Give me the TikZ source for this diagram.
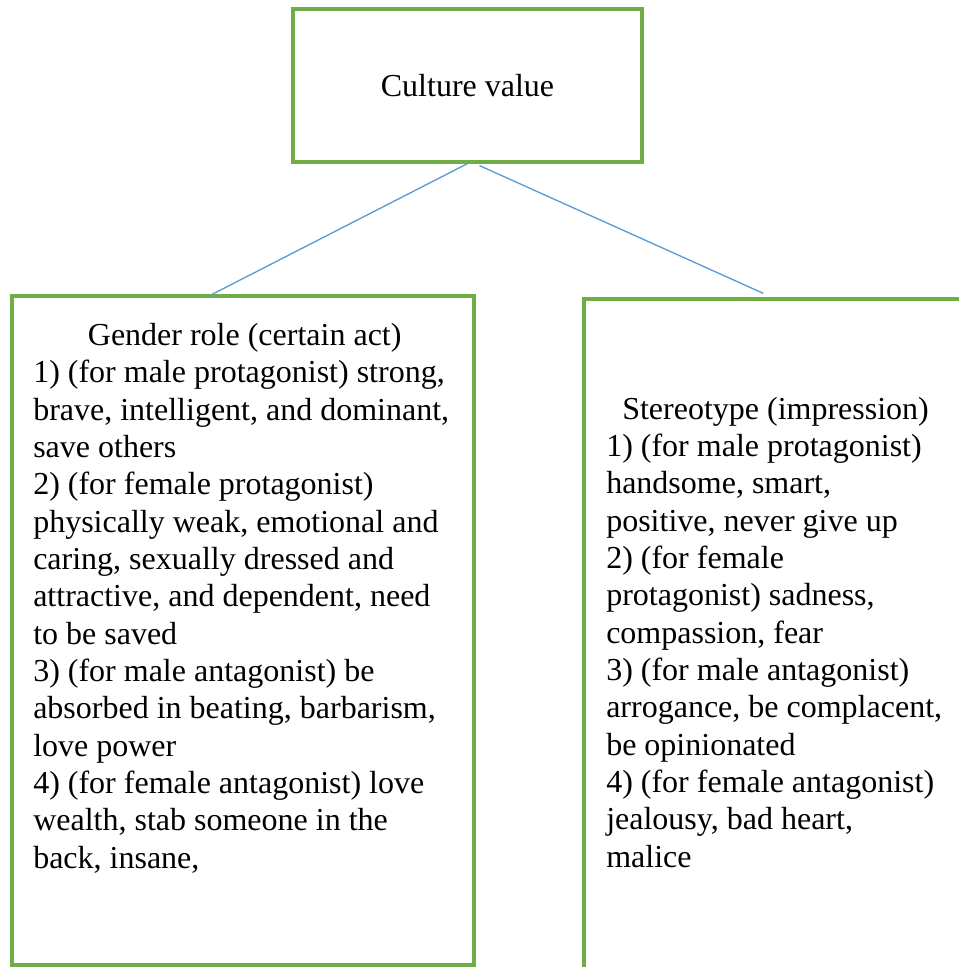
\documentclass[tikz,border=0pt]{standalone}
\usepackage{fontspec}
\setmainfont{Liberation Serif}
\usepackage{xcolor}
\usetikzlibrary{positioning,calc}

\definecolor{boxgreen}{HTML}{70AD47}
\definecolor{linkblue}{HTML}{5B9BD5}

\begin{document}
\begin{tikzpicture}[x=0.75pt, y=-0.75pt,
  greenbox/.style={draw=boxgreen, line width=2.4pt, inner sep=0pt},
  link/.style={linkblue, line width=1pt},
  bodytext/.style={align=left, inner sep=0pt, font=\fontsize{24}{28}\selectfont}]

\useasboundingbox (0,0) rectangle (958,967);

% Top box
\node[greenbox, minimum width=261.75pt, minimum height=114.75pt, font=\fontsize{24}{28}\selectfont] (culture) at (467.5,85.5) {Culture value};

% Two lower boxes (the right one runs off the page)
\node[greenbox, minimum width=346.5pt, minimum height=501.75pt] (gender) at (243,630.5) {};
\node[greenbox, minimum width=319.5pt, minimum height=533.25pt] (stereo) at (797,654.5) {};

% Box texts (base = last line)
\node[bodytext, anchor=base west] (gendertext) at (33,868) {%
\hspace*{41pt}Gender role (certain act)\\
1) (for male protagonist) strong,\\
brave, intelligent, and dominant,\\
save others\\
2) (for female protagonist)\\
physically weak, emotional and\\
caring, sexually dressed and\\
attractive, and dependent, need\\
to be saved\\
3) (for male antagonist) be\\
absorbed in beating, barbarism,\\
love power\\
4) (for female antagonist) love\\
wealth, stab someone in the\\
back, insane,};

\node[bodytext, anchor=base west] (stereotext) at (606,867) {%
\hspace*{12pt}Stereotype (impression)\\
1) (for male protagonist)\\
handsome, smart,\\
positive, never give up\\
2) (for female\\
protagonist) sadness,\\
compassion, fear\\
3) (for male antagonist)\\
arrogance, be complacent,\\
be opinionated\\
4) (for female antagonist)\\
jealousy, bad heart,\\
malice};

% Connectors
\draw[link] (culture.south) -- ($(gender.north)+(-31,0)$);
\draw[link] ($(culture.south)+(12,2)$) -- ($(stereo.north west)+(181,-4)$);

\end{tikzpicture}
\end{document}
